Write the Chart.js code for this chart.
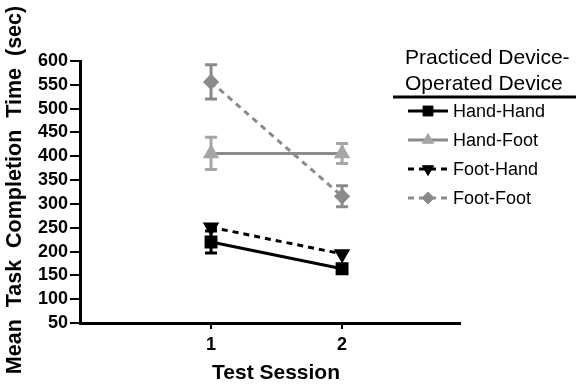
<!DOCTYPE html>
<html lang="en">
  <head>
    <meta charset="UTF-8" />
    <title>Task Completion Time</title>
    <style>
      html, body { margin: 0; padding: 0; background: #fff; }
    </style>
  </head>
  <body>
    <canvas id="chart" width="576" height="385"></canvas>

    <script src="https://cdn.jsdelivr.net/npm/chart.js"></script>
    <script>
      // data
      const sessions = [1, 2];
      const seriesNames = ["Hand-Hand", "Hand-Foot", "Foot-Hand", "Foot-Foot"];
      const handHand = [220, 164];
      const handFoot = [406, 406];
      const footHand = [251, 195];
      const footFoot = [556, 316];
      const handHandErr = [23, 4];
      const handFootErr = [34, 21];
      const footHandErr = [11, 4];
      const footFootErr = [36, 22];
      const yMin = 50;
      const yMax = 600;
      const yStep = 50;

      const FONT = "'Liberation Sans', Arial, sans-serif";

      function points(values) {
        return sessions.map((s, i) => ({ x: s, y: values[i] }));
      }

      //! error bars
      const errorBars = {
        id: "errorBars",
        beforeDatasetsDraw(chart) {
          const ctx = chart.ctx;
          const y = chart.scales.y;
          chart.data.datasets.forEach((ds, di) => {
            const meta = chart.getDatasetMeta(di);
            meta.data.forEach((pt, i) => {
              const v = ds.data[i].y;
              const e = ds.errors[i];
              const top = y.getPixelForValue(v + e);
              const bot = y.getPixelForValue(v - e);
              if (bot - top < 12) return; // hidden behind the marker
              ctx.save();
              ctx.strokeStyle = ds.errColor;
              ctx.lineWidth = 3;
              ctx.beginPath();
              ctx.moveTo(pt.x, top);
              ctx.lineTo(pt.x, bot);
              ctx.moveTo(pt.x - 6, top);
              ctx.lineTo(pt.x + 6, top);
              ctx.moveTo(pt.x - 6, bot);
              ctx.lineTo(pt.x + 6, bot);
              ctx.stroke();
              ctx.restore();
            });
          });
        },
      };

      //! titles + legend box
      const decorations = {
        id: "decorations",
        afterDraw(chart) {
          const ctx = chart.ctx;
          ctx.save();
          ctx.fillStyle = "#000";

          // y title
          ctx.save();
          ctx.translate(15, 190);
          ctx.rotate(-Math.PI / 2);
          ctx.font = "bold 21.5px " + FONT;
          ctx.textAlign = "center";
          ctx.textBaseline = "middle";
          ctx.fillText("Mean  Task  Completion  Time  (sec)", 0, 0);
          ctx.restore();

          // x title
          ctx.font = "bold 21px " + FONT;
          ctx.textAlign = "center";
          ctx.textBaseline = "middle";
          ctx.fillText("Test Session", 276, 373);

          // legend
          ctx.font = "21px " + FONT;
          ctx.textAlign = "left";
          ctx.fillText("Practiced Device-", 405, 58);
          ctx.fillText("Operated Device", 405, 84);
          ctx.strokeStyle = "#000";
          ctx.lineWidth = 3;
          ctx.beginPath();
          ctx.moveTo(393, 97);
          ctx.lineTo(576, 97);
          ctx.stroke();

          ctx.font = "18px " + FONT;
          chart.data.datasets.forEach((ds, i) => {
            const ly = 111 + i * 29;
            ctx.save();
            ctx.strokeStyle = ds.borderColor;
            ctx.lineWidth = 3;
            ctx.setLineDash(ds.borderDash || []);
            ctx.beginPath();
            ctx.moveTo(408, ly);
            ctx.lineTo(448, ly);
            ctx.stroke();
            ctx.restore();
            ctx.save();
            ctx.fillStyle = ds.pointBackgroundColor;
            ctx.strokeStyle = ds.pointBackgroundColor;
            ctx.lineWidth = 1;
            Chart.helpers.drawPoint(ctx, {
              pointStyle: ds.pointStyle,
              radius: ds.pointRadius,
              rotation: ds.pointRotation || 0,
              borderWidth: 1,
            }, 428, ly);
            ctx.restore();
            ctx.fillStyle = "#000";
            ctx.textBaseline = "middle";
            ctx.fillText(seriesNames[i], 453, ly + 1);
          });
          ctx.restore();
        },
      };

      const ctx = document.getElementById("chart").getContext("2d");
      const chart = new Chart(ctx, {
        type: "line",
        data: {
          datasets: [
            {
              label: seriesNames[0],
              data: points(handHand),
              errors: handHandErr,
              errColor: "#000",
              borderColor: "#000",
              borderWidth: 3,
              pointStyle: "rect",
              pointRadius: 7,
              pointBackgroundColor: "#000",
              pointBorderColor: "#000",
            },
            {
              label: seriesNames[1],
              data: points(handFoot),
              errors: handFootErr,
              errColor: "#a6a6a6",
              borderColor: "#8c8c8c",
              borderWidth: 3,
              pointStyle: "triangle",
              pointRadius: 6.5,
              pointBackgroundColor: "#a6a6a6",
              pointBorderColor: "#a6a6a6",
            },
            {
              label: seriesNames[2],
              data: points(footHand),
              errors: footHandErr,
              errColor: "#000",
              borderColor: "#000",
              borderWidth: 3,
              borderDash: [6, 5],
              pointStyle: "triangle",
              pointRotation: 180,
              pointRadius: 6.5,
              pointBackgroundColor: "#000",
              pointBorderColor: "#000",
            },
            {
              label: seriesNames[3],
              data: points(footFoot),
              errors: footFootErr,
              errColor: "#8a8a8a",
              borderColor: "#8a8a8a",
              borderWidth: 3,
              borderDash: [6, 5],
              pointStyle: "rectRot",
              pointRadius: 6,
              pointBackgroundColor: "#8a8a8a",
              pointBorderColor: "#8a8a8a",
            },
          ],
        },
        options: {
          responsive: false,
          animation: false,
          clip: false,
          layout: { padding: { left: 0, top: 61, right: 116, bottom: 0 } },
          elements: { line: { tension: 0 }, point: { borderWidth: 1 } },
          plugins: { legend: { display: false }, tooltip: { enabled: false } },
          scales: {
            x: {
              type: "linear",
              min: 0,
              max: 2.9,
              afterBuildTicks: (s) => {
                s.ticks = sessions.map((v) => ({ value: v }));
              },
              afterFit: (s) => {
                s.height = 62;
              },
              border: { display: true, color: "#000", width: 3 },
              grid: {
                drawOnChartArea: false,
                drawTicks: true,
                tickLength: 6,
                color: "#000",
                lineWidth: 2,
              },
              ticks: {
                color: "#000",
                padding: 5,
                font: { family: FONT, size: 18, weight: "bold" },
              },
            },
            y: {
              min: yMin,
              max: yMax,
              afterFit: (s) => {
                s.width = 80;
              },
              border: { display: true, color: "#000", width: 3 },
              grid: {
                drawOnChartArea: false,
                drawTicks: true,
                tickLength: 10,
                color: "#000",
                lineWidth: 2,
              },
              ticks: {
                stepSize: yStep,
                autoSkip: false,
                color: "#000",
                padding: 2,
                font: { family: FONT, size: 18, weight: "bold" },
              },
            },
          },
        },
        plugins: [errorBars, decorations],
      });
    </script>
  </body>
</html>
